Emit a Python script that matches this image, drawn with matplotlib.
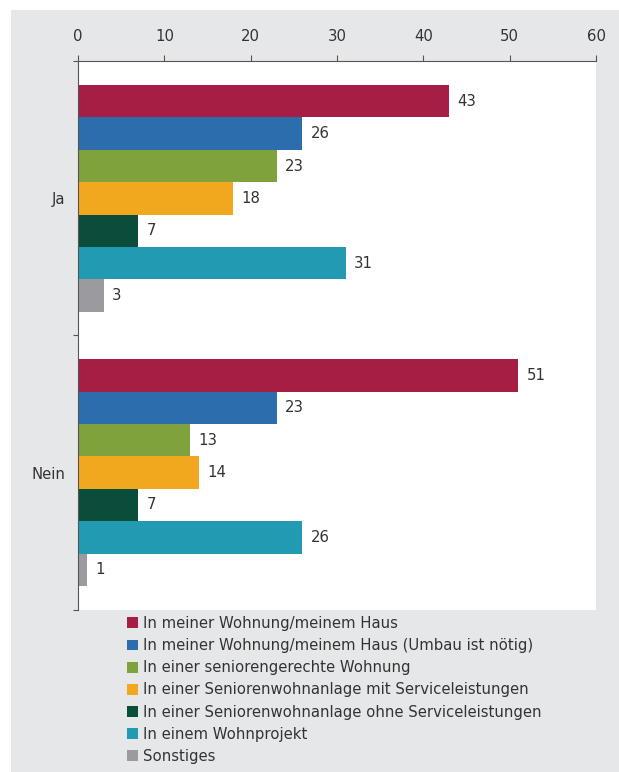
#!/usr/bin/env python3
# -*- coding: utf-8 -*-
import numpy as np
import matplotlib
matplotlib.use('Agg')
import matplotlib.pyplot as plt
from matplotlib.patches import Rectangle, Patch

groups = ['Ja', 'Nein']
categories = [
    'In meiner Wohnung/meinem Haus',
    'In meiner Wohnung/meinem Haus (Umbau ist nötig)',
    'In einer seniorengerechte Wohnung',
    'In einer Seniorenwohnanlage mit Serviceleistungen',
    'In einer Seniorenwohnanlage ohne Serviceleistungen',
    'In einem Wohnprojekt',
    'Sonstiges',
]
values_ja = [43, 26, 23, 18, 7, 31, 3]
values_nein = [51, 23, 13, 14, 7, 26, 1]
colors = ['#A61E44', '#2C6DAE', '#80A23C', '#F2A81E', '#0B4D3B', '#229BB2', '#9B9B9F']

BG = '#E6E7E9'
TXT = '#333333'
FS = 10.7

plt.rcParams['font.family'] = ['DejaVu Sans']

W, H = 619, 772
fig = plt.figure(figsize=(W / 100, H / 100), dpi=100, facecolor='white')
fig.patches.append(Rectangle((11 / W, 0), 1, 1 - 10 / H, transform=fig.transFigure,
                             facecolor=BG, edgecolor='none', zorder=-10))

ax = fig.add_axes([78 / W, 1 - 610 / H, (596 - 78) / W, (610 - 61) / H])
ax.set_facecolor('white')
ax.set_zorder(1)

gap = 8.46
y_top = -0.5 - 0.74
y_bot = 6 + gap + 0.5 + 0.74
for g, vals in enumerate([values_ja, values_nein]):
    pos = np.arange(len(vals)) + g * gap
    ax.barh(pos, vals, height=1.0, color=colors, edgecolor='none')
    for p, v in zip(pos, vals):
        ax.annotate(str(v), (v, p), xytext=(6, 0), textcoords='offset points',
                    va='center', ha='left', fontsize=FS, color=TXT)

ax.set_xlim(0, 60)
ax.set_ylim(y_bot, y_top)
ax.xaxis.tick_top()
ax.set_xticks(range(0, 61, 10))
ax.tick_params(axis='x', direction='out', length=4.3, width=0.8, color='#555555',
               labelsize=FS, labelcolor=TXT, pad=8)

ax.set_yticks([3, 3 + gap])
ax.set_yticklabels(groups)
ax.set_yticks([y_top, 6.5 + (gap - 7) / 2, y_bot], minor=True)
ax.tick_params(axis='y', which='major', length=0, labelsize=FS, labelcolor=TXT, pad=9)
ax.tick_params(axis='y', which='minor', length=3.6, width=0.8, color='#555555')

for s in ['right', 'bottom']:
    ax.spines[s].set_visible(False)
for s in ['top', 'left']:
    ax.spines[s].set_color('#555555')
    ax.spines[s].set_linewidth(0.8)

handles = [Patch(facecolor=c, edgecolor='none') for c in colors]
fig.legend(handles, categories, loc='upper left', bbox_to_anchor=(127 / W, 1 - 616 / H),
           frameon=False, fontsize=FS, handlelength=0.75, handleheight=0.75,
           handletextpad=0.3, labelspacing=0.48, borderaxespad=0, borderpad=0,
           labelcolor=TXT)

fig.savefig('out.png', dpi=100, facecolor=fig.get_facecolor())
